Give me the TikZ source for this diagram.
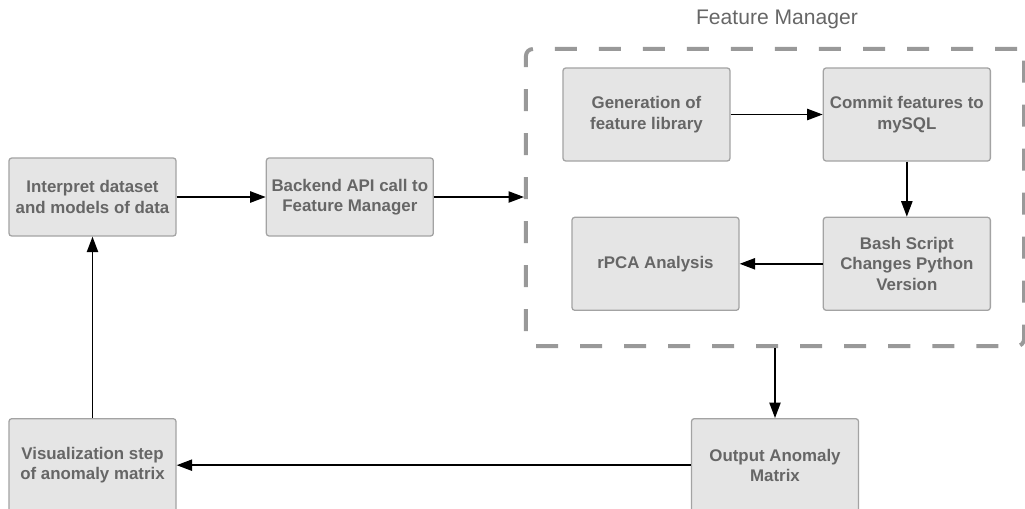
\documentclass[tikz,border=0pt]{standalone}
\usepackage{fontspec}
\setmainfont{Liberation Sans}
\usetikzlibrary{positioning, arrows.meta}
\definecolor{boxgray}{HTML}{E5E5E5}
\definecolor{linegray}{HTML}{A3A3A3}
\definecolor{dashgray}{HTML}{999999}
\definecolor{textgray}{HTML}{666666}

\begin{document}
\begin{tikzpicture}[x=0.025cm, y=-0.025cm,
stepbox/.style={rectangle, rounded corners=2pt, draw=linegray, fill=boxgray, line width=0.9pt, minimum width=4.175cm, minimum height=2.325cm, align=center, text=textgray, font=\fontsize{12}{14.5}\selectfont\bfseries},
smallbox/.style={stepbox, minimum height=1.95cm},
group/.style={rectangle, rounded corners=5pt, draw=dashgray, line width=2.8pt, dash pattern=on 0.55cm off 0.55cm, minimum width=12.45cm, minimum height=7.425cm},
title/.style={text=textgray, font=\fontsize{15}{18}\selectfont},
link/.style={-{Triangle[length=11pt,width=8pt]}, line width=1.1pt, black},
node distance=2.3cm
]
\useasboundingbox (0,0) rectangle (1025,508);
%Nodes
\node[smallbox]    (Int)      at (92.5,197)            {Interpret dataset\\and models of data};
\node[smallbox]    (API)      [right=2.225cm of Int]   {Backend API call to\\Feature Manager};

\node[group]       (FM)       at (775,197.5)           {};
\node[title]       (FMT)      at (777,19)              {Feature Manager};
\node[stepbox]     (Gen)      at (646.5,114.5)         {Generation of\\feature library};
\node[stepbox]     (Com)      [right=of Gen]           {Commit features to\\mySQL};
\node[stepbox]     (Bash)     [below=1.375cm of Com]   {Bash Script\\Changes Python\\Version};
\node[stepbox]     (RPCA)     [left=2.075cm of Bash]   {rPCA Analysis};

\node[stepbox]     (Out)      [below=1.75cm of FM]     {Output Anomaly\\Matrix};
\node[stepbox]     (Vis)      at (Int |- Out)          {Visualization step\\of anomaly matrix};

%Lines
\draw[link] (Int) -- (API);
\draw[link] (API.east) -- (API.east -| FM.west);
\draw[link] (Gen) -- (Com);
\draw[link] (Com) -- (Bash);
\draw[link] (Bash) -- (RPCA);
\draw[link] (FM) -- (Out);
\draw[link] (Out) -- (Vis);
\draw[link] (Vis) -- (Int);
\end{tikzpicture}
\end{document}
